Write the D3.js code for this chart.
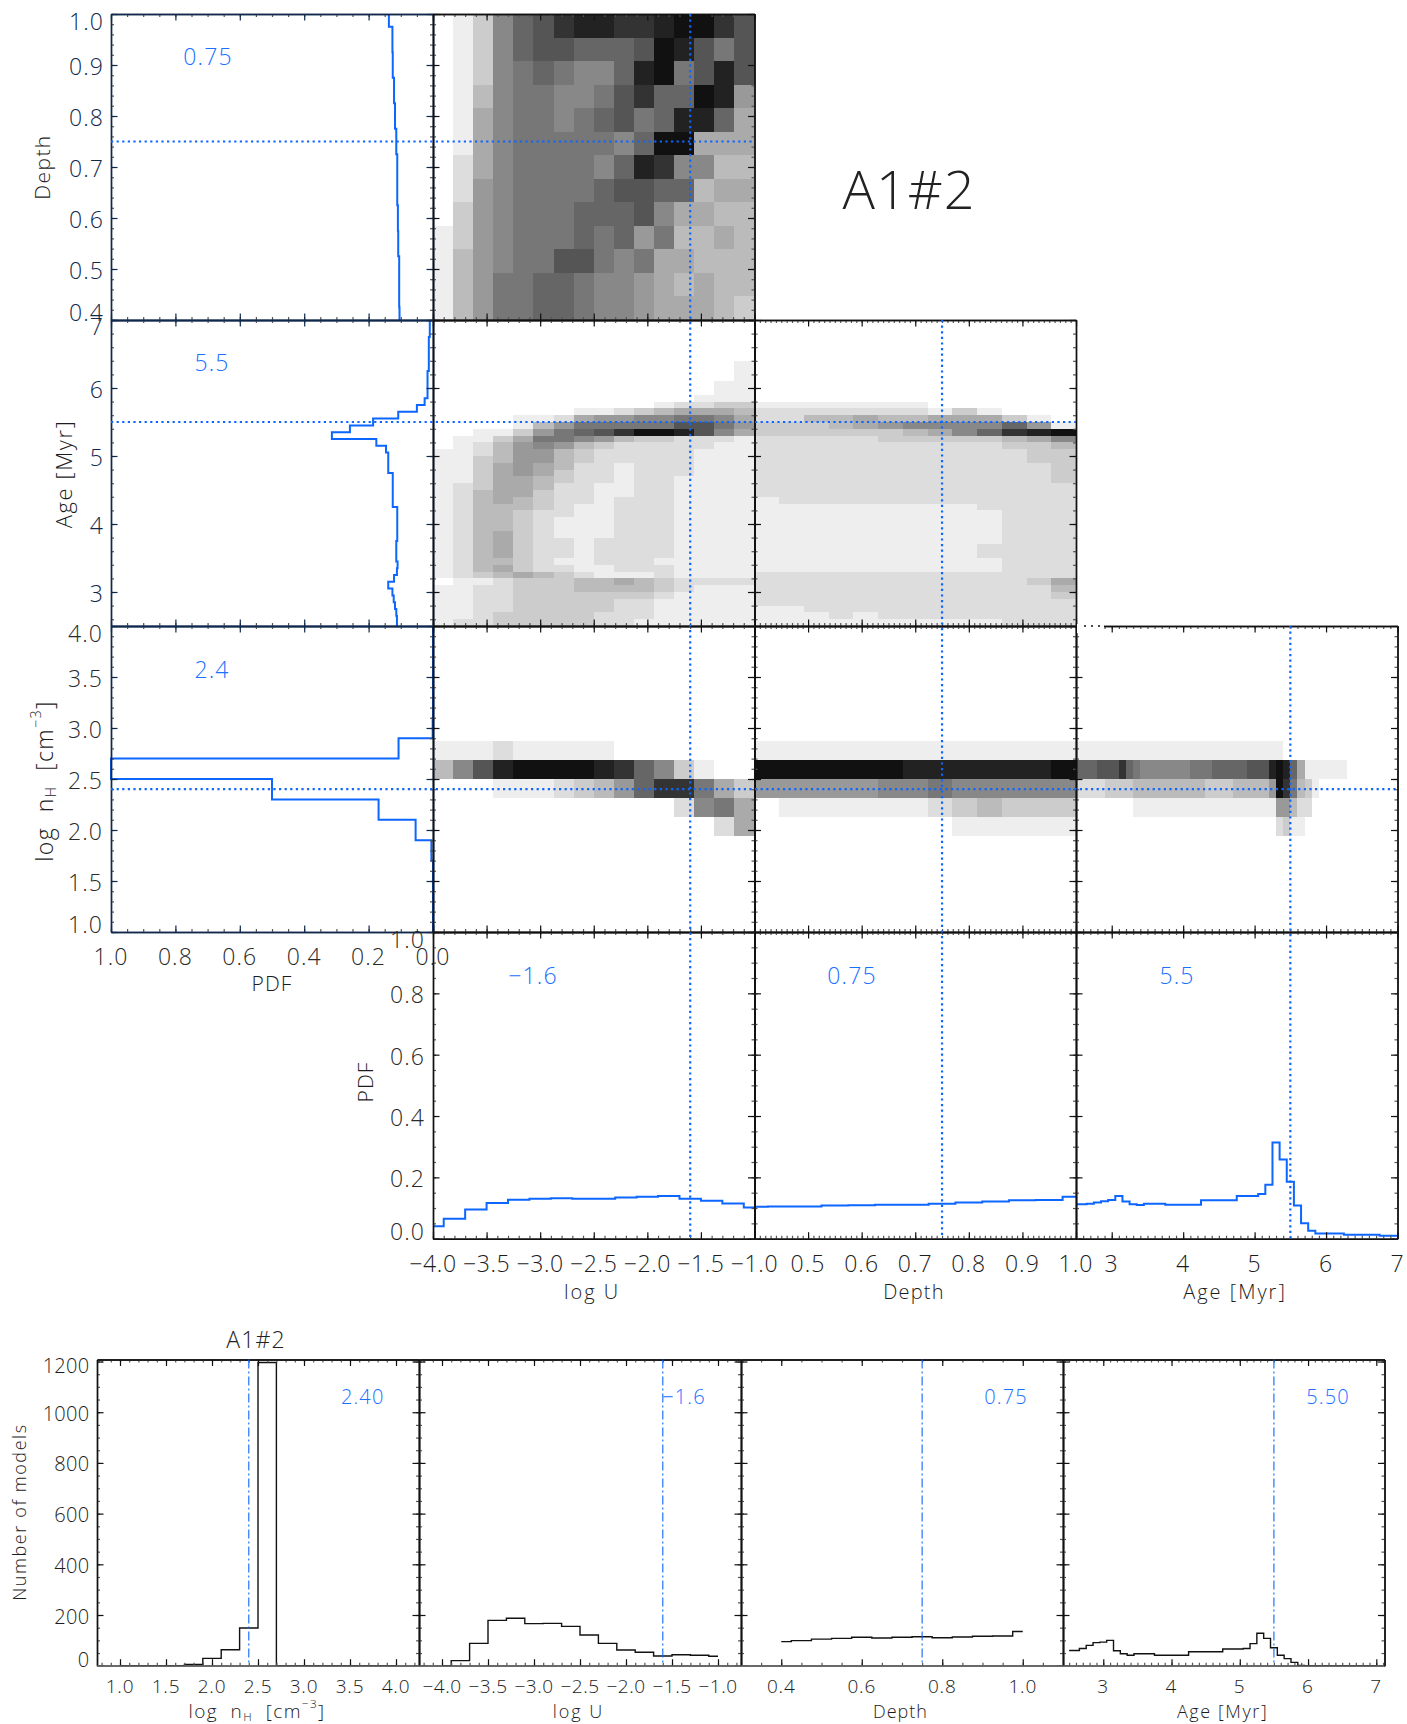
<!DOCTYPE html>
<html><head><meta charset="utf-8">
<script src="https://cdn.jsdelivr.net/npm/d3@7/dist/d3.min.js"></script>
<style>
html,body{margin:0;padding:0;background:#fff}
svg{display:block}
text{font-family:"Open Sans","Noto Sans",sans-serif;font-weight:300;dominant-baseline:central}
</style></head><body><div id="c"></div>
<script>
// ---------- values ----------
const bestNH = 2.4, bestU = -1.6, bestDepth = 0.75, bestAge = 5.5;

// 1D PDF per bin (bins centred on the centres below)
const nhCentres = d3.range(16).map(i => 1 + 0.2 * i);
const pdfNH = [0,0,0,0,0.005,0.054,0.169,0.5,1.0,0.107,0.001,0,0,0,0,0];
const uCentres = d3.range(16).map(i => -4 + 0.2 * i);
const pdfU = [.041,.065,.095,.116,.127,.13,.1315,.13,.13,.134,.137,.139,.13,.124,.115,.102];
const depthCentres = d3.range(13).map(i => 0.4 + 0.05 * i);
const pdfDepth = [.104,.105,.105,.108,.109,.111,.111,.114,.118,.121,.125,.126,.137];
const ageCentres = d3.range(46).map(i => 2.5 + 0.1 * i);
const pdfAge = [.112,.112,.114,.118,.122,.126,.139,.121,.112,.11,.114,.114,.114,.111,.111,.111,.111,.111,.125,.125,.125,.125,.125,.139,.139,.139,.146,.176,.314,.258,.186,.108,.05,.026,.017,.017,.017,.017,.013,.013,.013,.013,.013,.01,.01,.01];

// histogram counts
const histNH = [0,0,0,0,5,29,63,149,1196,0,0,0,0,0,0,0];
const histU = [0,20,88,179,187,166,167,155,121,88,62,53,38,43,41,37];
const histDepth = [95,99,105,108,112,109,112,114,110,113,116,117,135];
const histAge = [60,60,68,80,91,93,100,59,47,41,47,47,47,41,41,41,41,41,55,55,55,55,55,66,66,66,68,87,128,108,71,41,28,13,1,0,0,0,0,0,0,0,0,0,0,0];

// 2D density levels (0 = white … 15 = black), rows from top of panel down
const depthU = [
[0,1,3,7,9,10,12,13,13,12,12,13,14,14,12,10],
[0,1,3,7,9,10,10,9,9,9,10,14,13,10,8,10],
[0,1,3,7,8,9,8,7,7,9,13,14,8,10,13,10],
[0,1,4,7,8,8,7,7,8,10,12,9,9,14,13,6],
[0,1,5,7,8,8,7,8,9,10,8,9,13,13,9,5],
[0,1,5,7,8,8,8,8,8,7,9,14,14,5,5,5],
[0,2,5,7,8,8,8,8,7,9,13,12,7,7,4,4],
[0,2,6,7,8,8,8,8,9,10,10,9,9,4,5,5],
[0,3,6,7,8,8,8,9,9,9,10,7,5,5,4,4],
[1,3,6,7,8,8,8,9,8,9,6,8,4,4,5,4],
[1,4,6,7,8,8,10,10,8,7,8,5,5,4,4,4],
[1,4,6,8,8,9,9,8,7,7,6,5,4,5,4,4],
[1,4,6,8,8,9,9,8,7,7,6,5,5,5,4,3]];
const ageURowStart = 6;
const ageU = [
[0,0,0,0,0,0,0,0,0,0,0,0,0,0,0,1],
[0,0,0,0,0,0,0,0,0,0,0,0,0,0,0,1],
[0,0,0,0,0,0,0,0,0,0,0,0,0,0,0,1],
[0,0,0,0,0,0,0,0,0,0,0,0,0,0,1,1],
[0,0,0,0,0,0,0,0,0,0,0,0,0,0,1,1],
[0,0,0,0,0,0,0,0,0,0,0,0,0,1,1,1],
[0,0,0,0,0,0,0,0,0,0,0,1,2,2,3,3],
[0,0,0,0,0,0,0,1,1,2,3,4,5,5,5,4],
[0,0,0,0,1,1,2,5,6,6,7,7,8,8,7,5],
[0,0,0,0,1,4,6,8,8,8,8,8,10,10,8,6],
[0,0,1,1,3,6,8,9,10,12,14,14,13,10,7,5],
[0,1,1,3,5,8,8,7,6,4,3,3,2,2,2,1],
[0,1,2,4,6,7,6,4,3,2,2,2,2,2,1,1],
[1,1,2,4,6,6,4,3,2,2,2,2,2,1,1,1],
[1,1,3,4,6,6,4,3,2,2,2,2,2,1,1,1],
[1,1,3,5,6,5,4,2,2,1,2,2,2,1,1,1],
[1,1,3,5,6,5,3,2,2,1,2,2,2,1,1,1],
[1,1,3,5,5,4,3,2,2,1,2,2,1,1,1,1],
[1,2,3,5,5,4,2,2,1,1,2,2,1,1,1,1],
[1,2,4,5,5,3,2,2,1,1,2,2,1,1,1,1],
[1,2,4,5,4,3,2,2,1,2,2,2,1,1,1,1],
[1,2,4,4,4,3,2,1,1,2,2,2,1,1,1,1],
[1,2,4,4,3,2,2,1,1,2,2,2,1,1,1,1],
[1,2,4,4,3,2,1,1,1,2,2,2,1,1,1,1],
[1,2,4,4,3,2,1,1,1,2,2,2,1,1,1,1],
[1,2,4,5,3,2,1,1,1,2,2,2,1,1,1,1],
[1,2,4,5,3,2,2,1,2,2,2,2,1,1,1,1],
[1,2,4,5,3,2,2,1,2,2,2,2,1,1,1,1],
[1,2,4,5,3,2,2,1,2,2,2,2,1,1,1,1],
[1,2,4,4,3,2,1,1,2,2,2,1,1,1,1,1],
[1,2,4,5,3,2,2,1,1,2,2,2,1,1,1,1],
[1,2,3,4,5,4,3,2,1,1,1,2,1,1,1,1],
[0,1,1,2,3,3,3,4,4,5,4,3,2,2,2,2],
[1,1,2,2,3,3,3,4,4,4,4,3,2,1,1,1],
[1,1,2,2,3,3,3,3,3,3,3,2,1,1,1,1],
[1,1,2,2,3,3,3,3,3,2,2,1,1,1,1,1],
[1,1,2,2,3,3,3,3,3,2,2,1,1,1,1,1],
[1,1,2,3,3,3,3,3,2,2,2,1,1,1,1,1],
[1,2,2,3,3,3,3,3,2,2,1,1,1,1,1,1]];
const ageDepthRowStart = 12;
const ageDepth = [
[1,1,1,1,1,1,1,0,0,0,0,0,0],
[2,2,2,2,2,2,2,1,3,1,0,0,0],
[2,2,4,4,5,4,4,5,5,5,3,1,0],
[3,3,3,4,5,6,7,7,7,7,9,6,1],
[3,3,3,3,3,3,4,5,7,9,12,13,14],
[2,2,2,2,2,3,3,3,3,3,4,5,7],
[2,2,2,2,2,2,2,2,2,2,3,3,4],
[2,2,2,2,2,2,2,2,2,2,2,3,3],
[2,2,2,2,2,2,2,2,2,2,2,3,3],
[2,2,2,2,2,2,2,2,2,2,2,2,3],
[2,2,2,2,2,2,2,2,2,2,2,2,3],
[2,2,2,2,2,2,2,2,2,2,2,2,3],
[2,2,2,2,2,2,2,2,2,2,2,2,2],
[2,2,2,2,2,2,2,2,2,2,2,2,2],
[1,2,2,2,2,2,2,2,2,2,2,2,2],
[1,1,1,1,1,1,1,1,1,2,2,2,2],
[1,1,1,1,1,1,1,1,1,1,2,2,2],
[1,1,1,1,1,1,1,1,1,1,2,2,2],
[1,1,1,1,1,1,1,1,1,1,2,2,2],
[1,1,1,1,1,1,1,1,1,1,2,2,2],
[1,1,1,1,1,1,1,1,1,1,2,2,2],
[1,1,1,1,1,1,1,1,1,2,2,2,2],
[1,1,1,1,1,1,1,1,1,2,2,2,2],
[1,1,1,1,1,1,1,1,1,1,2,2,2],
[1,1,1,1,1,1,1,1,1,1,2,2,2],
[2,2,2,2,2,2,2,2,2,2,2,2,2],
[2,2,2,2,2,2,2,2,2,2,2,3,5],
[2,2,2,2,2,2,2,2,2,2,2,2,4],
[2,2,2,2,2,2,2,2,2,2,2,2,3],
[2,2,2,2,2,2,2,2,2,2,2,2,2],
[1,1,2,2,2,2,2,2,2,2,2,2,2],
[1,1,1,2,1,2,2,2,2,2,2,2,2],
[1,1,1,1,1,1,1,1,1,1,2,2,2]];
const nhRowStart = 6;
const nhU = [
[1,1,1,2,1,1,1,1,1,0,0,0,0,0,0,0],
[4,7,10,13,14,14,14,14,13,12,9,7,3,1,0,0],
[0,0,0,1,1,1,2,3,4,6,9,12,12,8,5,3],
[0,0,0,0,0,0,0,0,0,0,0,0,2,7,8,5],
[0,0,0,0,0,0,0,0,0,0,0,0,0,0,2,5]];
const nhDepth = [
[1,1,1,1,1,1,1,1,1,1,1,1,1],
[14,14,14,14,14,14,13,13,13,13,13,13,14],
[6,6,6,6,6,7,7,8,7,7,7,7,7],
[0,1,1,1,1,1,1,2,3,4,3,3,3],
[0,0,0,0,0,0,0,0,1,1,1,1,1]];
const nhAge = [
[1,1,1,1,1,1,1,1,1,1,1,1,1,1,1,1,1,1,1,1,1,1,1,1,1,1,1,1,1,0,0,0,0,0,0,0,0,0,0,0,0,0,0,0,0],
[9,9,9,10,10,10,12,9,8,7,7,7,7,7,7,7,8,8,8,9,9,9,9,9,10,10,10,13,14,13,9,5,1,1,1,1,1,1,0,0,0,0,0,0,0],
[2,2,2,2,3,3,3,3,4,4,4,4,4,4,4,4,4,4,3,3,3,3,4,4,4,4,4,6,14,12,8,4,3,1,0,0,0,0,0,0,0,0,0,0,0],
[0,0,0,0,0,0,0,0,1,1,1,1,1,1,1,1,1,1,1,1,1,1,1,1,1,1,1,1,6,6,4,2,2,0,0,0,0,0,0,0,0,0,0,0,0],
[0,0,0,0,0,0,0,0,0,0,0,0,0,0,0,0,0,0,0,0,0,0,0,0,0,0,0,0,2,3,1,1,0,0,0,0,0,0,0,0,0,0,0,0,0]];

// tick labels
const ticksNH = [1,1.5,2,2.5,3,3.5,4];
const ticksU = [-4,-3.5,-3,-2.5,-2,-1.5,-1];
const ticksDepthCorner = [0.5,0.6,0.7,0.8,0.9,1.0];
const ticksDepthY = [0.4,0.5,0.6,0.7,0.8,0.9,1.0];
const ticksAge = [3,4,5,6,7];
const ticksPDF = [0,0.2,0.4,0.6,0.8,1];
const ticksHistDepth = [0.4,0.6,0.8,1.0];
const ticksCount = [0,200,400,600,800,1000,1200];

// ---------- layout ----------
const W = 1407, H = 1724;
const X = [111,433,754.5,1076,1397.5], Y = [14,320,626,932,1238.7];
const BX = [97,419,741,1063,1384.5], BY = [1359.5,1665.7];
const BLUE = "#0c66ff", NAVY = "#10284c", INK = "#1c1c1c", LABELBLUE = "#1a70ff";

const svg = d3.select("#c").append("svg").attr("width",W).attr("height",H).attr("viewBox",`0 0 ${W} ${H}`);
const gray = d3.scaleLinear().domain([0,15]).range(["#ffffff","#000000"]);
const fmt1 = d3.format(".1f");
const sgn = v => fmt1(v).replace("-","\u2212");

function text(x,y,s,o={}){
  const t = svg.append("text").attr("x",x).attr("y",y-1).attr("text-anchor",o.anchor||"middle")
    .attr("font-size",o.size||21).attr("fill",o.fill||INK).attr("letter-spacing",o.ls==null?1.1:o.ls).text(s);
  if(o.rot!=null) t.attr("transform",`rotate(${o.rot} ${x} ${y-1})`);
  return t;
}
function nhTitle(x,y,size,rot,ls){
  const t = svg.append("text").attr("x",x).attr("y",y).attr("text-anchor","middle").attr("font-size",size)
    .attr("fill",INK).attr("letter-spacing",ls).attr("xml:space","preserve");
  if(rot!=null) t.attr("transform",`rotate(${rot} ${x} ${y})`);
  t.append("tspan").text("log  n");
  t.append("tspan").attr("font-size",size*0.62).attr("dy",size*0.25).text("H");
  t.append("tspan").attr("dy",-size*0.25).text("  [cm");
  t.append("tspan").attr("font-size",size*0.62).attr("dy",-size*0.4).text("\u22123");
  t.append("tspan").attr("dy",size*0.4).text("]");
}

// frame with in-pointing ticks on all four sides, via d3 axes
function frame(xs,ys,xMaj,xMin,yMaj,yMin,col,majLen,minLen){
  const [x0,x1]=xs.range(), [y1,y0]=ys.range();
  const g = svg.append("g");
  const mk = (axis,tr,vals,len)=>{
    const a = g.append("g").attr("transform",tr)
      .call(axis.tickValues(vals).tickSize(len).tickSizeOuter(0).tickFormat(""));
    a.select(".domain").attr("stroke",col).attr("stroke-width",1.4);
    a.selectAll(".tick line").attr("stroke",len===-minLen?"#555":col).attr("stroke-width",1.2);
  };
  mk(d3.axisBottom(xs),`translate(0,${y1})`,xMin,-minLen); mk(d3.axisBottom(xs),`translate(0,${y1})`,xMaj,-majLen);
  mk(d3.axisTop(xs),`translate(0,${y0})`,xMin,-minLen); mk(d3.axisTop(xs),`translate(0,${y0})`,xMaj,-majLen);
  mk(d3.axisLeft(ys),`translate(${x0},0)`,yMin,-minLen); mk(d3.axisLeft(ys),`translate(${x0},0)`,yMaj,-majLen);
  mk(d3.axisRight(ys),`translate(${x1},0)`,yMin,-minLen); mk(d3.axisRight(ys),`translate(${x1},0)`,yMaj,-majLen);
}
const rng=(a,b,s)=>{const n=Math.round((b-a)/s);return d3.range(n+1).map(i=>+(a+i*s).toFixed(4));};

// scales per parameter in the corner plot
const colU = d3.scaleLinear().domain([-4,-1]).range([X[1],X[2]]);
const colD = d3.scaleLinear().domain([0.4,1]).range([X[2],X[3]]);
const colA = d3.scaleLinear().domain([2.5,7]).range([X[3],X[4]]);
const colP = d3.scaleLinear().domain([1,0]).range([X[0],X[1]]);
const rowD = d3.scaleLinear().domain([0.4,1]).range([Y[1],Y[0]]);
const rowA = d3.scaleLinear().domain([2.5,7]).range([Y[2],Y[1]]);
const rowN = d3.scaleLinear().domain([1,4]).range([Y[3],Y[2]]);
const rowP = d3.scaleLinear().domain([0,1]).range([Y[4],Y[3]]);

// ticks sets
const tk = {
 P:[rng(0,1,.2),rng(0,1,.05)], U:[rng(-4,-1,.5),rng(-4,-1,.1)],
 D:[rng(.4,1,.1),rng(.4,1,.01)], A:[rng(3,7,1),rng(2.5,7,.1)]
};
const tkY = {
 D:[rng(.4,1,.1),rng(.4,1,.02)], A:[rng(3,7,1),rng(2.6,7,.2)],
 N:[rng(1,4,.5),rng(1,4,.1)], P:[rng(0,1,.2),rng(0,1,.05)]
};

// heat: grid rows from top; xDom/yDom give equal bins
function heat(grid,xs,ys,nCols,nRows,rowStart){
  const [xa,xb]=xs.domain(), [ya,yb]=ys.domain();
  const dx=(xb-xa)/nCols, dy=(yb-ya)/nRows;
  const cells=[];
  grid.forEach((r,i)=>r.forEach((v,j)=>{ if(v>0) cells.push({i:i+rowStart,j,v}); }));
  svg.append("g").attr("shape-rendering","crispEdges").selectAll("rect").data(cells).join("rect")
    .attr("x",d=>xs(xa+d.j*dx)).attr("width",d=>xs(xa+(d.j+1)*dx)-xs(xa+d.j*dx))
    .attr("y",d=>ys(yb-d.i*dy)).attr("height",d=>ys(yb-(d.i+1)*dy)-ys(yb-d.i*dy))
    .attr("fill",d=>gray(d.v));
}
heat(depthU,colU,rowD,16,13,0);
heat(ageU,colU,rowA,16,45,ageURowStart);
heat(ageDepth,colD,rowA,13,45,ageDepthRowStart);
heat(nhU,colU,rowN,16,16,nhRowStart);
heat(nhDepth,colD,rowN,13,16,nhRowStart);
heat(nhAge,colA,rowN,45,16,nhRowStart);

// step helper: list of [pos,val] corners from centred bins, clipped at the domain ends
function corners(centres,vals,half,lo,hi){
  const pts=[];
  centres.forEach((c,i)=>{
    const a=Math.max(lo,c-half), b=Math.min(hi,c+half);
    pts.push([a,vals[i]],[b,vals[i]]);
  });
  return pts;
}
function stepH(centres,vals,half,lo,hi,xs,ys,col,w){
  const line=d3.line().x(d=>xs(d[0])).y(d=>ys(d[1]));
  svg.append("path").attr("d",line(corners(centres,vals,half,lo,hi))).attr("fill","none").attr("stroke",col).attr("stroke-width",w).attr("stroke-linejoin","miter");
}
function stepV(centres,vals,half,lo,hi,xs,ys,col,w){
  const line=d3.line().x(d=>xs(d[1])).y(d=>ys(d[0]));
  svg.append("path").attr("d",line(corners(centres,vals,half,lo,hi))).attr("fill","none").attr("stroke",col).attr("stroke-width",w).attr("stroke-linejoin","miter");
}
// left column PDFs
stepV(depthCentres,pdfDepth,.025,.4,1,colP,rowD,BLUE,2);
stepV(ageCentres,pdfAge,.05,2.5,7,colP,rowA,BLUE,2);
stepV(nhCentres,pdfNH,.1,1,4,colP,rowN,BLUE,2);
// bottom row of corner plot
stepH(uCentres,pdfU,.1,-4,-1,colU,rowP,BLUE,2);
stepH(depthCentres,pdfDepth,.025,.4,1,colD,rowP,BLUE,2);
stepH(ageCentres,pdfAge,.05,2.5,7,colA,rowP,BLUE,2);

// frames
[[0,rowD,"D",colP,"P",NAVY],[1,rowD,"D",colU,"U","#111"],
 [0,rowA,"A",colP,"P",NAVY],[1,rowA,"A",colU,"U","#111"],[2,rowA,"A",colD,"D","#111"],
 [0,rowN,"N",colP,"P",NAVY],[1,rowN,"N",colU,"U","#111"],[2,rowN,"N",colD,"D","#111"],[3,rowN,"N",colA,"A","#111"],
 [1,rowP,"P",colU,"U","#111"],[2,rowP,"P",colD,"D","#111"],[3,rowP,"P",colA,"A","#111"]
].forEach(([c,ys,yk,xs,xk,col])=>frame(xs,ys,tk[xk][0],tk[xk][1],tkY[yk][0],tkY[yk][1],col,6.5,3));

// gap in the top edge of the Age/nH panel
svg.append("rect").attr("x",X[3]+1).attr("y",Y[2]-2).attr("width",27).attr("height",9).attr("fill","#fff");
svg.append("line").attr("x1",X[3]+8).attr("x2",X[3]+27).attr("y1",Y[2]).attr("y2",Y[2]).attr("stroke","#111").attr("stroke-width",1.4).attr("stroke-dasharray","2 5");

// dotted best-value lines
function dotted(x1,y1,x2,y2){
  svg.append("line").attr("x1",x1).attr("y1",y1).attr("x2",x2).attr("y2",y2)
    .attr("stroke",BLUE).attr("stroke-width",2.2).attr("stroke-dasharray","2.2 3.4");
}
dotted(X[0],rowD(bestDepth),X[2],rowD(bestDepth));
dotted(X[0],rowA(bestAge),X[3],rowA(bestAge));
dotted(X[0],rowN(bestNH),X[4],rowN(bestNH));
dotted(colU(bestU),Y[0],colU(bestU),Y[4]);
dotted(colD(bestDepth),Y[1],colD(bestDepth),Y[4]);
dotted(colA(bestAge),Y[2],colA(bestAge),Y[4]);

// y tick labels of the corner plot
function yLabels(vals,ys,right,f,size,col,tPad,bPad){
  const [b,t]=ys.range();
  vals.forEach(v=>{
    const y=Math.min(b-bPad,Math.max(t+tPad,ys(v)+2));
    text(right,y,f(v),{anchor:"end",size,fill:col});
  });
}
yLabels(ticksDepthY,rowD,104,fmt1,23,NAVY,8,7);
yLabels(ticksAge,rowA,104,d3.format("d"),23,NAVY,7,7);
yLabels(ticksNH,rowN,103,fmt1,23,"#2a2a2a",8,7);
yLabels(ticksPDF,rowP,425,fmt1,23,"#2a2a2a",8,7);

// x tick labels
const yXT=957;
ticksPDF.forEach(v=>text(colP(v),yXT,fmt1(v),{size:23,fill:"#2a2a2a"}));
const yXB=1264;
ticksU.forEach(v=>text(colU(v),yXB,sgn(v),{size:23,ls:0.6}));
ticksDepthCorner.forEach(v=>text(colD(v),yXB,fmt1(v),{size:23}));
ticksAge.forEach(v=>text(colA(v),yXB,d3.format("d")(v),{size:23}));

// axis titles
text(42,168,"Depth",{size:21,rot:-90,ls:1.4});
text(63,475,"Age [Myr]",{size:22,rot:-90,ls:1.6});
nhTitle(44,781,23,-90,1.4);
text(272,984,"PDF",{size:21});
text(365,1083,"PDF",{size:21,rot:-90});
text(592,1292,"log U",{size:20,ls:2});
text(914,1292,"Depth",{size:20,ls:1.2});
text(1235,1292,"Age [Myr]",{size:20,ls:2});

// blue values
const bl={size:23,fill:LABELBLUE};
text(208,57,"0.75",bl); text(212,363,"5.5",bl); text(212,670,"2.4",bl);
text(533,976,"\u22121.6",bl); text(852,976,"0.75",bl); text(1177,976,"5.5",bl);

// big title
text(909,189,"A1#2",{size:54,fill:"#222",ls:1});

// ---------- histogram row ----------
const bY = d3.scaleLinear().domain([0,1208]).range([BY[1],BY[0]]);
const bXs = [
  d3.scaleLinear().domain([0.75,4.25]).range([BX[0],BX[1]]),
  d3.scaleLinear().domain([-4.25,-0.75]).range([BX[1],BX[2]]),
  d3.scaleLinear().domain([0.3,1.1]).range([BX[2],BX[3]]),
  d3.scaleLinear().domain([2.41,7.12]).range([BX[3],BX[4]])
];
stepH(nhCentres,histNH,.1,1,4,bXs[0],bY,"#111",1.4);
stepH(uCentres,histU,.1,-4,-1,bXs[1],bY,"#111",1.4);
stepH(depthCentres,histDepth,.025,.4,1,bXs[2],bY,"#111",1.4);
stepH(ageCentres,histAge,.05,2.5,7,bXs[3],bY,"#111",1.4);

const bTicks=[
  [rng(1,4,.5),rng(1,4,.1).concat([.8,.9,4.1,4.2])],
  [rng(-4,-1,.5),rng(-4,-1,.1).concat([-4.2,-4.1,-.9,-.8])],
  [rng(.4,1,.2),rng(.3,1.1,.05)],
  [rng(3,7,1),rng(2.5,7.1,.1)]
];
const bMajY=rng(0,1200,200), bMinY=rng(0,1200,50);
bXs.forEach((xs,i)=>frame(xs,bY,bTicks[i][0],bTicks[i][1],bMajY,bMinY,"#111",6.5,3));
// heavier gray base line
svg.append("line").attr("x1",BX[0]).attr("x2",BX[4]).attr("y1",BY[1]+.5).attr("y2",BY[1]+.5).attr("stroke","#888").attr("stroke-width",1.2);

// dash-dot best-value lines
[bestNH,bestU,bestDepth,bestAge].forEach((v,i)=>{
  svg.append("line").attr("x1",bXs[i](v)).attr("x2",bXs[i](v)).attr("y1",BY[0]).attr("y2",BY[1])
    .attr("stroke",BLUE).attr("stroke-width",1.1).attr("stroke-dasharray","9 3 2 3");
});
// labels
const bFs=19, yBT=1686.7;
ticksCount.forEach(v=>{
  const y=Math.min(BY[1]-5.7,Math.max(BY[0]+7,bY(v)+2));
  text(89.5,y,String(v),{anchor:"end",size:bFs+1,ls:0.3});
});
ticksNH.forEach(v=>text(bXs[0](v),yBT,fmt1(v),{size:bFs,ls:0.8}));
ticksU.forEach(v=>text(bXs[1](v),yBT,sgn(v),{size:bFs,ls:0.5}));
ticksHistDepth.forEach(v=>text(bXs[2](v),yBT,fmt1(v),{size:bFs,ls:0.8}));
ticksAge.forEach(v=>text(bXs[3](v),yBT,d3.format("d")(v),{size:bFs}));
nhTitle(257,1711,19,null,1.4);
text(578.5,1711.5,"log U",{size:18,ls:2});
text(900.5,1711.5,"Depth",{size:18,ls:1});
text(1222.6,1711.5,"Age [Myr]",{size:18,ls:1.6});
text(19,1513,"Number of models",{size:18,rot:-90,ls:1.6});
text(256,1340,"A1#2",{size:23,fill:"#222"});
const bb={size:20,fill:LABELBLUE};
text(362.7,1397,"2.40",bb);
text(684,1397,"\u22121.6",bb);
text(1006,1397,"0.75",bb);
text(1328,1397,"5.50",bb);
</script></body></html>
